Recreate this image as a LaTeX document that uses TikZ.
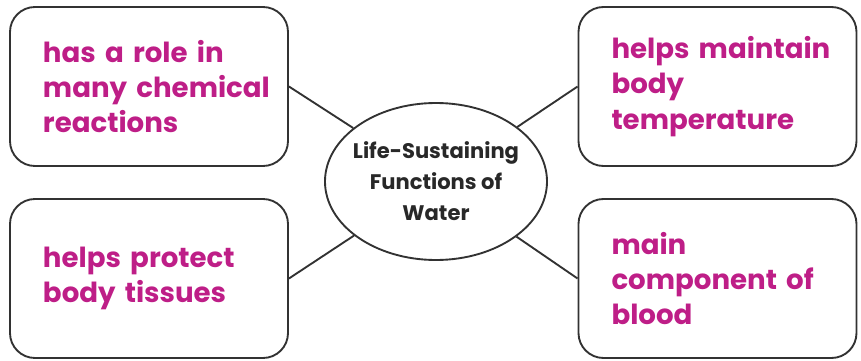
\documentclass[tikz,border=0pt]{standalone}
\usepackage{fontspec}
\usepackage{xcolor}
\usepackage{tikz}
\setmainfont{Poppins}
\hyphenpenalty=10000
\definecolor{waterpink}{RGB}{190, 30, 135}
\definecolor{waterline}{RGB}{50, 50, 50}
\definecolor{watertext}{RGB}{40, 40, 40}
\usetikzlibrary{shapes.geometric,positioning}

\begin{document}
\begin{tikzpicture}[x=0.03cm, y=-0.03cm]
    \tikzset{
        factbox/.style={draw=waterline, line width=1.6pt, rounded corners=0.75cm, minimum width=8.34cm, minimum height=4.77cm, text width=6.36cm, inner xsep=0.99cm, align=left, text=waterpink, font=\fontsize{23.6}{30}\selectfont\bfseries},
        link/.style={draw=waterline, line width=1.6pt}
    }
    \useasboundingbox (0,0) rectangle (861,360);
    \node[draw=waterline, line width=1.6pt, ellipse, minimum width=6.66cm, minimum height=4.71cm, inner sep=-0.2cm, align=center, text=watertext, font=\fontsize{18}{26.5}\selectfont\bfseries] (water) at (436,181.5) {Life-Sustaining\\Functions~of\\Water};
    \node[factbox] (chem) at (149,86.5) {has~a~role~in\\many~chemical\\reactions};
    \node[factbox] (tissue) at (149,278.5) {helps~protect\\body~tissues};
    \node[factbox] (temp) at (717.5,86.5) {helps~maintain\\body\\temperature};
    \node[factbox] (blood) at (717.5,278.5) {main\\component~of\\blood};
    \draw[link] (chem.east) -- (water);
    \draw[link] (tissue.east) -- (water);
    \draw[link] (temp.west) -- (water);
    \draw[link] (blood.west) -- (water);
\end{tikzpicture}
\end{document}
